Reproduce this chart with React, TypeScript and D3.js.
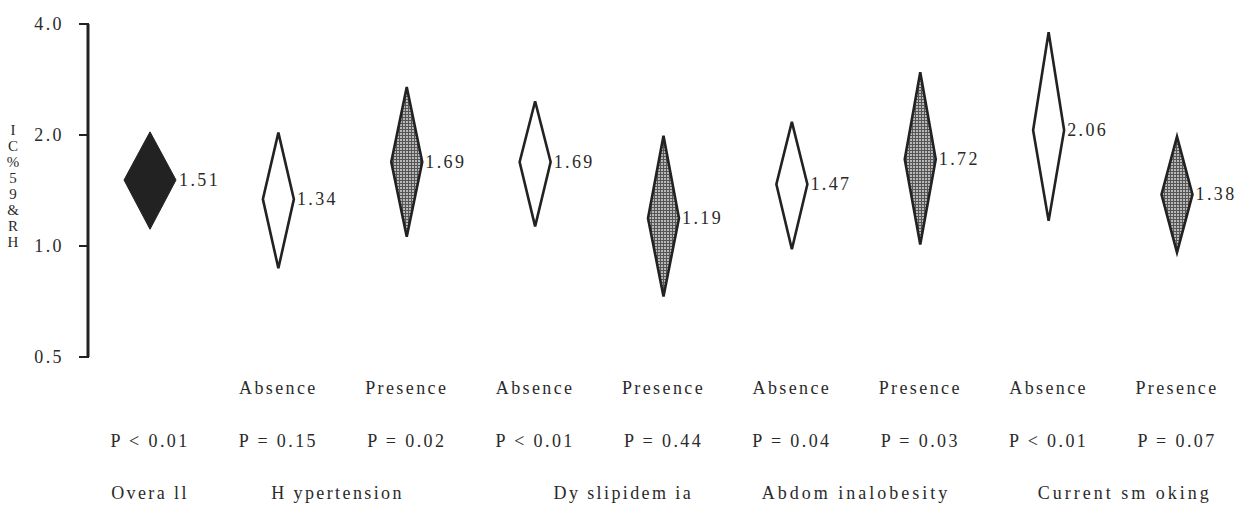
import React from "react";
import * as d3 from "d3";

const labels = ["Overall", "Absence", "Presence", "Absence", "Presence", "Absence", "Presence", "Absence", "Presence"];
const hr = [1.51, 1.34, 1.69, 1.69, 1.19, 1.47, 1.72, 2.06, 1.38];
const lower = [1.11, 0.87, 1.06, 1.13, 0.73, 0.98, 1.01, 1.17, 0.96];
const upper = [2.04, 2.03, 2.70, 2.47, 1.99, 2.17, 2.96, 3.80, 1.98];
const pvalues = ["P < 0.01", "P = 0.15", "P = 0.02", "P < 0.01", "P = 0.44", "P = 0.04", "P = 0.03", "P < 0.01", "P = 0.07"];
const kinds = ["solid", "open", "hatch", "open", "hatch", "open", "hatch", "open", "hatch"];
const groups = ["Overall", "Hypertension", "Dyslipidemia", "Abdominal obesity", "Current smoking"];
const groupMembers = [[0], [1, 2], [3, 4], [5, 6], [7, 8]];
const groupText = ["Overa ll", "H ypertension", "Dy slipidem ia", "Abdom inalobesity", "Current sm oking"];
const yTicks = [0.5, 1.0, 2.0, 4.0];
const yLabel = "HR&95%CI";

export default function App() {
  const W = 1242, H = 505;
  const y = d3.scaleLog().base(2).domain([0.5, 4]).range([357, 24]);
  const x = d3.scalePoint<number>().domain(d3.range(labels.length)).range([150, 1177]);
  const ink = "#222";
  const txt = "#2a2a2a";
  const font = "'Liberation Serif', 'Times New Roman', serif";
  const fs = 18;
  const ls = 2.4;
  const halfW = (i: number) => (i === 0 ? 26 : 15.5);
  const diamond = (i: number) => {
    const cx = x(i)!;
    const hw = halfW(i);
    const pts: [number, number][] = [
      [cx, y(upper[i])],
      [cx + hw, y(hr[i])],
      [cx, y(lower[i])],
      [cx - hw, y(hr[i])],
    ];
    return d3.line()(pts)! + "Z";
  };
  const groupDx = [0, -5, 24, 0, 12];
  const stacked = yLabel.split("").reverse().join("");
  return (
    <svg width={W} height={H} style={{ position: "absolute", left: 0, top: 0, background: "#fff" }}>
      <defs>
        <pattern id="hatch" width="3" height="3" patternUnits="userSpaceOnUse">
          <rect width="3" height="3" fill="#b8b8b8" />
          <rect width="3" height="1" fill="#555" />
          <rect width="1" height="3" fill="#555" />
        </pattern>
      </defs>
      {/* y axis */}
      <line x1={88} x2={88} y1={y(4)} y2={y(0.5)} stroke={ink} strokeWidth={3} />
      {yTicks.map((t) => (
        <g key={t}>
          <line x1={79} x2={89} y1={y(t)} y2={y(t)} stroke={ink} strokeWidth={2} />
          <text x={64} y={y(t) + 6} textAnchor="end" fontFamily={font} fontSize={fs} letterSpacing={ls} fill={txt}>
            {t.toFixed(1)}
          </text>
        </g>
      ))}
      <text
        x={13}
        y={122}
        fontFamily={font}
        fontSize={15}
        fill={txt}
        style={{ writingMode: "vertical-rl", textOrientation: "upright" } as React.CSSProperties}
      >
        {stacked}
      </text>
      {/* diamonds */}
      {hr.map((v, i) => (
        <g key={i}>
          <path
            d={diamond(i)}
            fill={kinds[i] === "solid" ? ink : kinds[i] === "hatch" ? "url(#hatch)" : "#fff"}
            stroke={ink}
            strokeWidth={kinds[i] === "solid" ? 1 : 2.6}
            strokeLinejoin="miter"
          />
          <text x={x(i)! + halfW(i) + 3} y={y(v) + 6} fontFamily={font} fontSize={fs} letterSpacing={ls} fill={txt}>
            {v.toFixed(2)}
          </text>
        </g>
      ))}
      {/* category labels */}
      {labels.map((l, i) =>
        i === 0 ? null : (
          <text key={"c" + i} x={x(i)} y={394} textAnchor="middle" fontFamily={font} fontSize={fs} letterSpacing={ls} fill={txt}>
            {l}
          </text>
        )
      )}
      {pvalues.map((p, i) => (
        <text key={"p" + i} x={x(i)} y={447} textAnchor="middle" fontFamily={font} fontSize={fs} letterSpacing={ls} fill={txt}>
          {p}
        </text>
      ))}
      {groups.map((g, gi) => {
        const m = groupMembers[gi];
        const cx = d3.mean(m.map((i) => x(i)!))! + groupDx[gi];
        return (
          <text key={g} x={cx} y={499} textAnchor="middle" fontFamily={font} fontSize={fs} letterSpacing={gi >= 3 ? 3 : ls} fill={txt}>
            {groupText[gi]}
          </text>
        );
      })}
    </svg>
  );
}
